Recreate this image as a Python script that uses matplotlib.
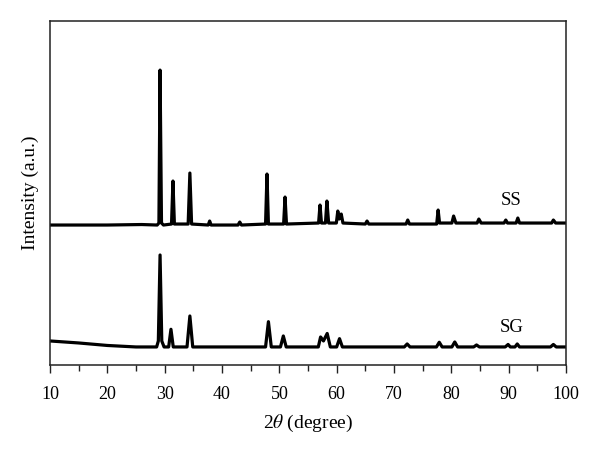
import matplotlib
matplotlib.use('Agg')
import matplotlib.pyplot as plt
from matplotlib.ticker import MultipleLocator

plt.rcParams['font.family'] = ['Liberation Serif', 'DejaVu Serif']
plt.rcParams['mathtext.fontset'] = 'stix'

# XRD traces (2theta in degree, intensity in a.u.)
ss_two_theta = [10, 20, 26, 28.7, 29.0, 29.2, 29.45, 29.8, 31.2, 31.45, 31.7,
                34.1, 34.4, 34.7, 37.6, 37.85, 38.1, 42.8, 43.1, 43.4,
                47.6, 47.85, 48.1, 50.75, 51.0, 51.25, 56.85, 57.1, 57.35,
                58.05, 58.3, 58.6, 59.95, 60.2, 60.45, 60.8, 61.1,
                65.0, 65.3, 65.6, 72.1, 72.4, 72.7, 77.45, 77.7, 77.95,
                80.1, 80.4, 80.8, 84.5, 84.8, 85.2, 89.2, 89.5, 89.8,
                91.3, 91.6, 91.9, 97.5, 97.8, 98.2, 100]
ss_intensity = [140, 140, 140.5, 140, 142, 295, 142, 140, 141, 184, 141,
                141, 192, 141, 140, 144, 140, 140, 143, 140,
                141, 191, 141, 141, 168, 141, 142, 160, 142,
                142, 164, 142, 142, 154, 146, 151, 142,
                141, 144, 141, 141, 145, 141, 141, 155, 142,
                142, 149, 142, 142, 146, 142, 142, 145, 142,
                142, 147, 142, 142, 145, 142, 142]

sg_two_theta = [10, 15, 20, 25, 28.6, 28.9, 29.2, 29.5, 29.9, 30.7, 31.1,
                31.5, 33.9, 34.4, 34.9, 47.6, 48.1, 48.6, 50.2, 50.7, 51.2,
                56.8, 57.2, 57.7, 58.35, 58.9, 60.0, 60.5, 61.0,
                71.8, 72.3, 72.8, 77.4, 77.9, 78.4, 80.1, 80.6, 81.1,
                83.9, 84.4, 84.9, 89.4, 89.9, 90.3, 91.1, 91.5, 91.9,
                97.3, 97.8, 98.3, 100]
sg_intensity = [24, 22, 19.5, 18, 18, 24, 110, 24, 18, 18, 35.7,
                18, 18, 49, 18, 18, 43.3, 18, 18, 29, 18,
                18, 28, 24, 31.5, 18, 18, 26.3, 18,
                18, 21, 18, 18, 22.7, 18, 18, 23, 18,
                18, 20, 18, 18, 20.5, 18, 18, 21, 18,
                18, 20.5, 18, 18]

fig = plt.figure(figsize=(6, 4.5), dpi=100)
ax = fig.add_axes([0.0833, 0.189, 0.86, 0.764])

ax.plot(ss_two_theta, ss_intensity, color='black', lw=2.3,
        solid_joinstyle='round')
ax.plot(sg_two_theta, sg_intensity, color='black', lw=2.3,
        solid_joinstyle='round')

ax.text(90.5, 165, 'SS', fontsize=13.5, ha='center', va='center')
ax.text(90.5, 37, 'SG', fontsize=13.5, ha='center', va='center')

ax.set_xlim(10, 100)
ax.set_ylim(0, 344)
ax.xaxis.set_major_locator(MultipleLocator(10))
ax.xaxis.set_minor_locator(MultipleLocator(5))
ax.tick_params(axis='x', which='major', direction='out', length=6, width=1,
               labelsize=13, pad=9, colors='#222222', labelcolor='black')
ax.tick_params(axis='x', which='minor', direction='out', length=4, width=1,
               colors='#222222')
ax.set_yticks([])
for s in ax.spines.values():
    s.set_linewidth(1.1)
    s.set_color('#222222')

ax.set_xlabel(r'2$\theta$ (degree)', fontsize=14, labelpad=7)
ax.set_ylabel('Intensity (a.u.)', fontsize=14, labelpad=8)

plt.savefig('out.png', dpi=100)
